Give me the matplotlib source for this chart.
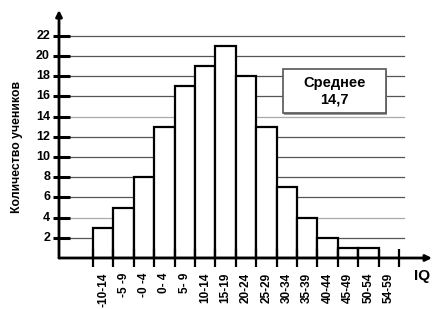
import matplotlib
matplotlib.use("Agg")
import matplotlib.pyplot as plt
from matplotlib.patches import Rectangle

plt.rcParams['font.family'] = ['Liberation Sans', 'DejaVu Sans']
plt.rcParams['font.weight'] = 'bold'

# data
bins = ["-10-14", "-5 -9", "-0 -4", "0- 4", "5- 9", "10-14", "15-19", "20-24",
        "25-29", "30-34", "35-39", "40-44", "45-49", "50-54", "54-59"]
counts = [3, 5, 8, 13, 17, 19, 21, 18, 13, 7, 4, 2, 1, 1, 0]
yticks = [2, 4, 6, 8, 10, 12, 14, 16, 18, 20, 22]
mean_text = "Среднее\n14,7"

W, H = 438, 309
fig = plt.figure(figsize=(W / 100, H / 100), dpi=100)
# pixel geometry of the plot area (y axis at x=59, x axis at y=258)
ax = fig.add_axes([59 / W, (H - 258) / H, (430 - 59) / W, (258 - 12) / H])
w = 20.4  # px per bin
ax.set_xlim(-34 / w, (430 - 93) / w)
ax.set_ylim(0, (258 - 12) / 10.1)
ax.axis('off')

# grid lines
for v in yticks:
    col = '#aaaaaa' if v in (4, 14) else '#555555'
    ax.plot([(70 - 93) / w, (404 - 93) / w], [v, v], color=col, lw=0.9, zorder=1)
    # y ticks
    ax.plot([(53 - 93) / w, (70 - 93) / w], [v, v], color='black', lw=2.2,
            clip_on=False, zorder=4, solid_capstyle='butt')
    ax.text((50 - 93) / w, v, str(v), ha='right', va='center', fontsize=9,
            fontweight='bold')

# bars
x = list(range(len(bins)))
ax.bar([i + 0.5 for i in x], counts, width=1.0, color='white', edgecolor='black',
       linewidth=1.6, zorder=3)

# x ticks at bin edges
for e in range(len(bins) + 1):
    ax.plot([e, e], [0.9, -0.9], color='black', lw=1.6, clip_on=False, zorder=4,
            solid_capstyle='butt')
for i, lab in enumerate(bins):
    ax.text(i + 0.5, -1.45, lab, rotation=90, ha='center', va='top',
            fontsize=8.5, fontweight='bold', clip_on=False)

# axes with arrows
x0 = -34 / w
ax.annotate('', xy=((432 - 93) / w, 0), xytext=(x0, 0),
            arrowprops=dict(arrowstyle='-|>', color='black', lw=2,
                            mutation_scale=9, shrinkA=0, shrinkB=0),
            annotation_clip=False, zorder=5)
ax.annotate('', xy=(x0, (258 - 10) / 10.1), xytext=(x0, 0),
            arrowprops=dict(arrowstyle='-|>', color='black', lw=2,
                            mutation_scale=9, shrinkA=0, shrinkB=0),
            annotation_clip=False, zorder=5)

ax.text((422 - 93) / w, -1.8, "IQ", ha='center', va='center', fontsize=11,
        fontweight='bold', clip_on=False)

fig.text(17 / W, 1 - 147 / H, "Количество учеников", rotation=90,
         ha='center', va='center', fontsize=8.8, fontweight='bold')

# mean box
bx0, bx1 = (283 - 93) / w, (386 - 93) / w
by0, by1 = (258 - 113) / 10.1, (258 - 69) / 10.1
ax.add_patch(Rectangle((bx0 + 0.06, by0 - 0.2), bx1 - bx0, by1 - by0,
                       facecolor='#999999', edgecolor='none', zorder=5))
ax.add_patch(Rectangle((bx0, by0), bx1 - bx0, by1 - by0, facecolor='white',
                       edgecolor='#555555', lw=1.2, zorder=6))
ax.text((bx0 + bx1) / 2, (by0 + by1) / 2, mean_text, ha='center', va='center',
        fontsize=10.5, fontweight='bold', linespacing=1.25, zorder=7)

fig.savefig("out.png", dpi=100)
